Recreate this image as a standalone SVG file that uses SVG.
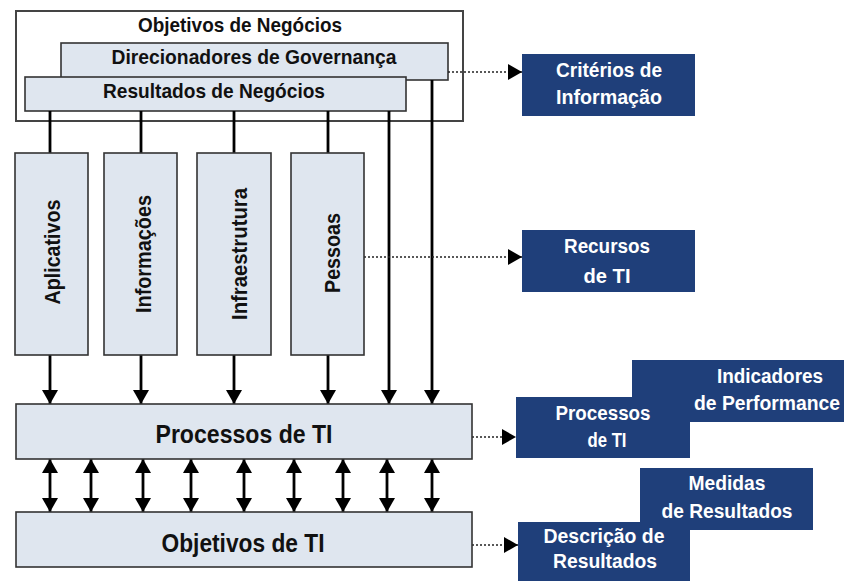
<svg xmlns="http://www.w3.org/2000/svg" width="844" height="581" viewBox="0 0 844 581">
<style>
.lb{fill:#dfe6ef;stroke:#333;stroke-width:1.6}
.ob{fill:#fff;stroke:#444;stroke-width:2}
.bb{fill:#1f3f7a}
.t{font-family:"Liberation Sans",Arial,sans-serif;font-weight:bold;fill:#111;text-anchor:middle}
.w{font-family:"Liberation Sans",Arial,sans-serif;font-weight:bold;fill:#fff;text-anchor:middle;font-size:20px}
.ln{stroke:#000;stroke-width:2.8;fill:none}
.dl{stroke:#222;stroke-width:1.7;stroke-dasharray:2,2;fill:none}
</style>
<defs>
<marker id="ah" markerUnits="userSpaceOnUse" viewBox="0 0 14 16" refX="14" refY="8" markerWidth="14" markerHeight="16" orient="auto"><path d="M0,0 L14,8 L0,16 z" fill="#000"/></marker>
<marker id="as" markerUnits="userSpaceOnUse" viewBox="0 0 14 16" refX="0" refY="8" markerWidth="14" markerHeight="16" orient="auto"><path d="M14,0 L0,8 L14,16 z" fill="#000"/></marker>
<marker id="ad" markerUnits="userSpaceOnUse" viewBox="0 0 14 16" refX="14" refY="8" markerWidth="14" markerHeight="16" orient="auto"><path d="M0,0 L14,8 L0,16 z" fill="#000"/></marker>
</defs>

<g id="objetivos-negocios">
<rect class="ob" x="16" y="11" width="447" height="110"/>
<text class="t" x="240" y="32" font-size="21" textLength="204" lengthAdjust="spacingAndGlyphs">Objetivos de Negócios</text>
</g>
<g id="direcionadores">
<rect class="lb" x="61" y="43" width="387" height="37"/>
<text class="t" x="254" y="64" font-size="21" textLength="285" lengthAdjust="spacingAndGlyphs">Direcionadores de Governança</text>
</g>
<g id="resultados-negocios">
<rect class="lb" x="25" y="77" width="381" height="34"/>
<text class="t" x="214" y="98" font-size="21" textLength="222" lengthAdjust="spacingAndGlyphs">Resultados de Negócios</text>
</g>

<g id="connectors">
<line class="ln" x1="50" y1="111" x2="50" y2="153"/>
<line class="ln" x1="141" y1="111" x2="141" y2="153"/>
<line class="ln" x1="234" y1="111" x2="234" y2="153"/>
<line class="ln" x1="328" y1="111" x2="328" y2="153"/>
<line class="ln" x1="50" y1="355" x2="50" y2="404" marker-end="url(#ah)"/>
<line class="ln" x1="141" y1="355" x2="141" y2="404" marker-end="url(#ah)"/>
<line class="ln" x1="234" y1="355" x2="234" y2="404" marker-end="url(#ah)"/>
<line class="ln" x1="328" y1="355" x2="328" y2="404" marker-end="url(#ah)"/>
<line class="ln" x1="389" y1="111" x2="389" y2="404" marker-end="url(#ah)"/>
<line class="ln" x1="432" y1="80" x2="432" y2="404" marker-end="url(#ah)"/>
<line class="ln" x1="50" y1="459" x2="50" y2="512" marker-start="url(#as)" marker-end="url(#ah)"/>
<line class="ln" x1="91" y1="459" x2="91" y2="512" marker-start="url(#as)" marker-end="url(#ah)"/>
<line class="ln" x1="143" y1="459" x2="143" y2="512" marker-start="url(#as)" marker-end="url(#ah)"/>
<line class="ln" x1="191" y1="459" x2="191" y2="512" marker-start="url(#as)" marker-end="url(#ah)"/>
<line class="ln" x1="244" y1="459" x2="244" y2="512" marker-start="url(#as)" marker-end="url(#ah)"/>
<line class="ln" x1="294" y1="459" x2="294" y2="512" marker-start="url(#as)" marker-end="url(#ah)"/>
<line class="ln" x1="343" y1="459" x2="343" y2="512" marker-start="url(#as)" marker-end="url(#ah)"/>
<line class="ln" x1="387" y1="459" x2="387" y2="512" marker-start="url(#as)" marker-end="url(#ah)"/>
<line class="ln" x1="432" y1="459" x2="432" y2="512" marker-start="url(#as)" marker-end="url(#ah)"/>
<line class="dl" x1="448" y1="72" x2="522" y2="72" marker-end="url(#ad)"/>
<line class="dl" x1="364" y1="257" x2="522" y2="257" marker-end="url(#ad)"/>
<line class="dl" x1="472" y1="437" x2="516" y2="437" marker-end="url(#ad)"/>
<line class="dl" x1="472" y1="545" x2="518" y2="545" marker-end="url(#ad)"/>
</g>

<g id="aplicativos">
<rect class="lb" x="15" y="153" width="73" height="202"/>
<text class="t" transform="translate(60,252) rotate(-90)" font-size="22" textLength="105" lengthAdjust="spacingAndGlyphs">Aplicativos</text>
</g>
<g id="informacoes">
<rect class="lb" x="104" y="153" width="73" height="202"/>
<text class="t" transform="translate(151,254) rotate(-90)" font-size="22" textLength="118" lengthAdjust="spacingAndGlyphs">Informações</text>
</g>
<g id="infraestrutura">
<rect class="lb" x="197" y="153" width="74" height="202"/>
<text class="t" transform="translate(247,254) rotate(-90)" font-size="22" textLength="132" lengthAdjust="spacingAndGlyphs">Infraestrutura</text>
</g>
<g id="pessoas">
<rect class="lb" x="291" y="153" width="73" height="202"/>
<text class="t" transform="translate(340,253) rotate(-90)" font-size="22" textLength="80" lengthAdjust="spacingAndGlyphs">Pessoas</text>
</g>

<g id="processos-ti">
<rect class="lb" x="16" y="404" width="456" height="55"/>
<text class="t" x="244" y="443" font-size="25" textLength="177" lengthAdjust="spacingAndGlyphs">Processos de TI</text>
</g>
<g id="objetivos-ti">
<rect class="lb" x="16" y="512" width="456" height="55"/>
<text class="t" x="243" y="552" font-size="25" textLength="163" lengthAdjust="spacingAndGlyphs">Objetivos de TI</text>
</g>

<g id="criterios-informacao">
<rect class="bb" x="522" y="54" width="173" height="62"/>
<text class="w" x="609" y="77" textLength="106" lengthAdjust="spacingAndGlyphs">Critérios de</text>
<text class="w" x="609" y="104" textLength="106" lengthAdjust="spacingAndGlyphs">Informação</text>
</g>
<g id="recursos-ti">
<rect class="bb" x="522" y="230" width="173" height="62"/>
<text class="w" x="607" y="253" textLength="86" lengthAdjust="spacingAndGlyphs">Recursos</text>
<text class="w" x="607" y="283" textLength="47" lengthAdjust="spacingAndGlyphs">de TI</text>
</g>
<g id="indicadores-performance">
<rect class="bb" x="632" y="360" width="214" height="62"/>
<text class="w" x="770" y="383" textLength="106" lengthAdjust="spacingAndGlyphs">Indicadores</text>
<text class="w" x="767" y="410" textLength="146" lengthAdjust="spacingAndGlyphs">de Performance</text>
</g>
<g id="processos-ti-box">
<rect class="bb" x="516" y="397" width="174" height="61"/>
<text class="w" x="603" y="420" textLength="95" lengthAdjust="spacingAndGlyphs">Processos</text>
<text class="w" x="607" y="447" textLength="39" lengthAdjust="spacingAndGlyphs">de TI</text>
</g>
<g id="medidas-resultados">
<rect class="bb" x="640" y="468" width="173" height="62"/>
<text class="w" x="727" y="490" textLength="77" lengthAdjust="spacingAndGlyphs">Medidas</text>
<text class="w" x="727" y="518" textLength="131" lengthAdjust="spacingAndGlyphs">de Resultados</text>
</g>
<g id="descricao-resultados">
<rect class="bb" x="518" y="522" width="172" height="62"/>
<text class="w" x="604" y="543" textLength="121" lengthAdjust="spacingAndGlyphs">Descrição de</text>
<text class="w" x="605" y="568" textLength="104" lengthAdjust="spacingAndGlyphs">Resultados</text>
</g>
</svg>
